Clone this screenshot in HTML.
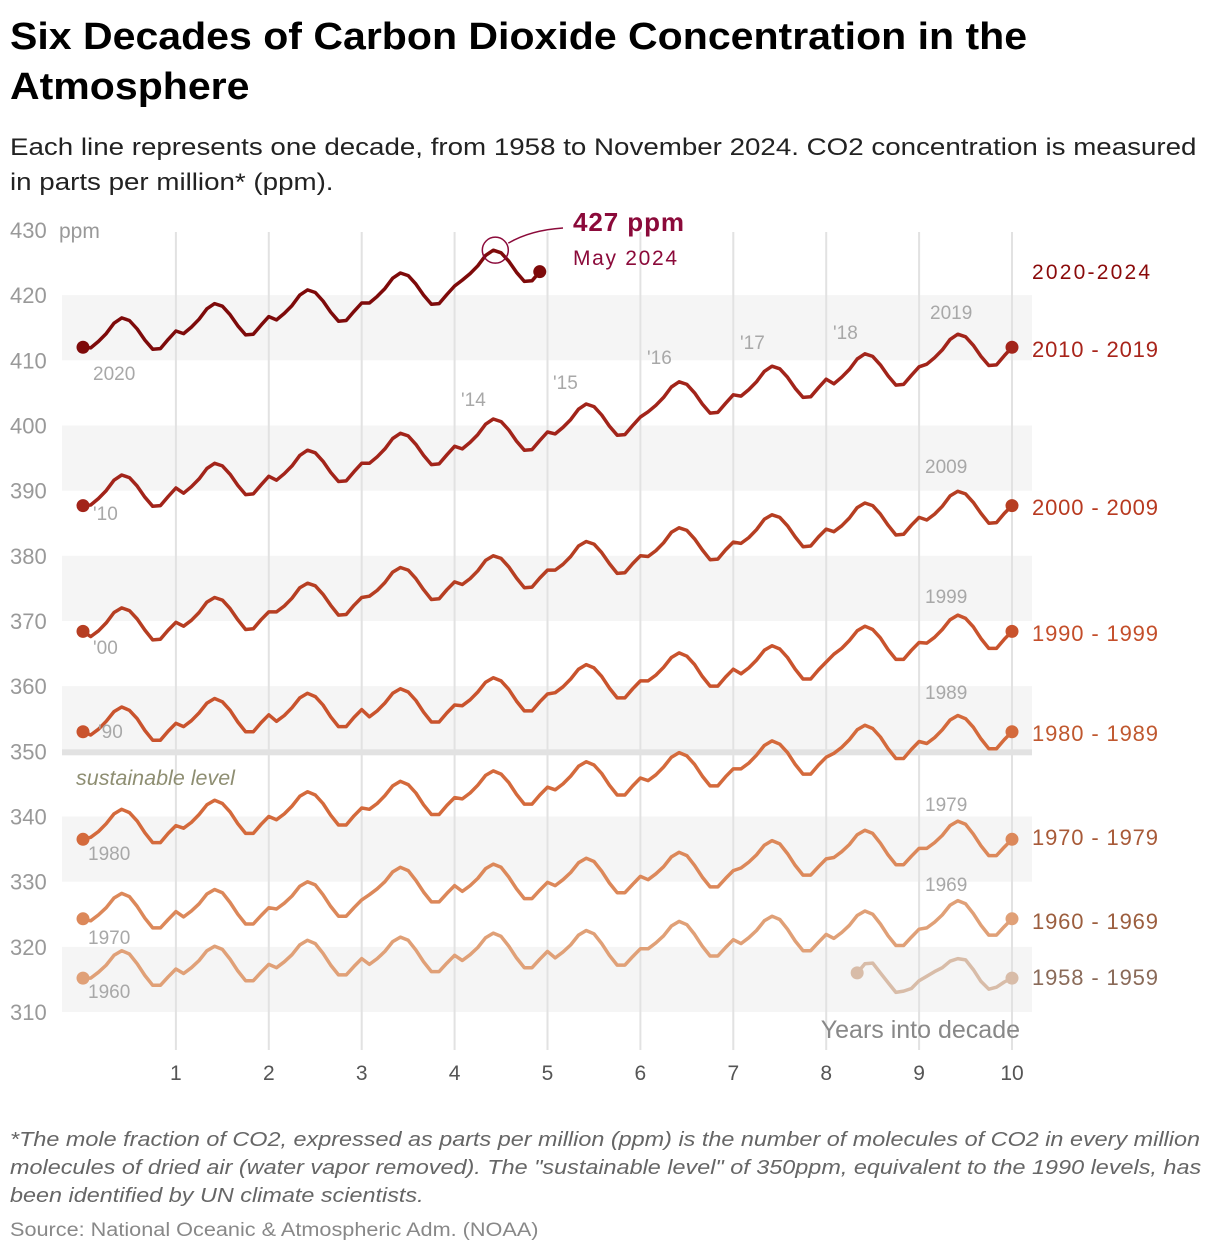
<!DOCTYPE html>
<html><head><meta charset="utf-8">
<style>
body{margin:0;background:#fff;width:1220px;height:1256px;overflow:hidden;font-family:"Liberation Sans",sans-serif;position:relative}
.t{position:absolute;white-space:nowrap;transform-origin:0 0}
</style></head>
<body>
<div class="t" style="left:10px;top:12px;font-size:38px;font-weight:bold;line-height:50px;color:#000;transform:scaleX(1.08)">Six Decades of Carbon Dioxide Concentration in the<br>Atmosphere</div>
<div class="t" style="left:10px;top:130px;font-size:24px;line-height:35px;color:#222;transform:scaleX(1.155)">Each line represents one decade, from 1958 to November 2024. CO2 concentration is measured<br>in parts per million* (ppm).</div>
<svg id="chart" width="1220" height="1100" style="position:absolute;left:0;top:0" xmlns="http://www.w3.org/2000/svg"></svg>
<div class="t" style="left:10px;top:1126px;font-size:20px;line-height:28px;font-style:italic;color:#666;transform:scaleX(1.17)">*The mole fraction of CO2, expressed as parts per million (ppm) is the number of molecules of CO2 in every million<br>molecules of dried air (water vapor removed). The "sustainable level" of 350ppm, equivalent to the 1990 levels, has<br>been identified by UN climate scientists.</div>
<div class="t" style="left:10px;top:1220px;font-size:19px;color:#888;transform:scaleX(1.14)">Source: National Oceanic &amp; Atmospheric Adm. (NOAA)</div>
<script>
const yTicks=[310,320,330,340,350,360,370,380,390,400,410,420,430];
const xTicks=[1,2,3,4,5,6,7,8,9,10];
const d1958=[316.0,317.4,317.5,316.0,314.5,313.0,313.2,313.6,314.8,315.5,316.2,316.8,317.8,318.2,318.0,316.5,314.7,313.5,313.8,314.6,315.2];
const d1960=[315.2,316.1,317.2,318.7,319.4,318.9,317.4,315.6,314.1,314.1,315.4,316.6,315.9,316.8,317.9,319.4,320.1,319.6,318.1,316.3,314.8,314.8,316.1,317.3,316.8,317.7,318.8,320.3,321.0,320.5,319.0,317.2,315.7,315.7,317.0,318.2,317.3,318.2,319.3,320.8,321.5,321.0,319.5,317.7,316.2,316.2,317.5,318.7,317.9,318.8,319.9,321.4,322.1,321.6,320.1,318.3,316.8,316.8,318.1,319.3,318.3,319.2,320.3,321.8,322.5,322.0,320.5,318.7,317.2,317.2,318.5,319.7,319.7,320.6,321.7,323.2,323.9,323.4,321.9,320.1,318.6,318.6,319.9,321.1,320.5,321.4,322.5,324.0,324.7,324.2,322.7,320.9,319.4,319.4,320.7,321.9,321.3,322.2,323.3,324.8,325.5,325.0,323.5,321.7,320.2,320.2,321.5,322.7,322.9,323.8,324.9,326.4,327.1,326.6,325.1,323.3,321.8,321.8,323.1,324.3];
const d1970=[324.0,324.9,326.0,327.5,328.2,327.7,326.2,324.4,322.9,322.9,324.2,325.4,324.6,325.5,326.6,328.1,328.8,328.3,326.8,325.0,323.5,323.5,324.8,326.0,325.8,326.7,327.8,329.3,330.0,329.5,328.0,326.2,324.7,324.7,326.0,327.2,328.0,328.9,330.0,331.5,332.2,331.7,330.2,328.4,326.9,326.9,328.2,329.4,328.5,329.4,330.5,332.0,332.7,332.2,330.7,328.9,327.4,327.4,328.7,329.9,329.4,330.3,331.4,332.9,333.6,333.1,331.6,329.8,328.3,328.3,329.6,330.8,330.3,331.2,332.3,333.8,334.5,334.0,332.5,330.7,329.2,329.2,330.5,331.7,332.1,333.0,334.1,335.6,336.3,335.8,334.3,332.5,331.0,331.0,332.3,333.5,333.7,334.6,335.7,337.2,337.9,337.4,335.9,334.1,332.6,332.6,333.9,335.1,335.1,336.0,337.1,338.6,339.3,338.8,337.3,335.5,334.0,334.0,335.3,336.5];
const d1980=[336.8,337.7,338.9,340.4,341.1,340.6,339.3,337.5,336.0,336.0,337.4,338.6,338.2,339.1,340.3,341.8,342.5,342.0,340.7,338.9,337.4,337.4,338.8,340.0,339.5,340.4,341.6,343.1,343.8,343.3,342.0,340.2,338.7,338.7,340.1,341.3,341.1,342.0,343.2,344.7,345.4,344.9,343.6,341.8,340.3,340.3,341.7,342.9,342.7,343.6,344.8,346.3,347.0,346.5,345.2,343.4,341.9,341.9,343.3,344.5,344.1,345.0,346.2,347.7,348.4,347.9,346.6,344.8,343.3,343.3,344.7,345.9,345.5,346.4,347.6,349.1,349.8,349.3,348.0,346.2,344.7,344.7,346.1,347.3,347.3,348.2,349.4,350.9,351.6,351.1,349.8,348.0,346.5,346.5,347.9,349.1,349.7,350.6,351.8,353.3,354.0,353.5,352.2,350.4,348.9,348.9,350.3,351.5,351.2,352.1,353.3,354.8,355.5,355.0,353.7,351.9,350.4,350.4,351.8,353.0];
const d1990=[352.5,353.4,354.6,356.1,356.8,356.3,355.0,353.2,351.7,351.7,353.1,354.3,353.8,354.7,355.9,357.4,358.1,357.6,356.3,354.5,353.0,353.0,354.4,355.6,354.6,355.5,356.7,358.2,358.9,358.4,357.1,355.3,353.8,353.8,355.2,356.4,355.3,356.2,357.4,358.9,359.6,359.1,357.8,356.0,354.5,354.5,355.9,357.1,357.0,357.9,359.1,360.6,361.3,360.8,359.5,357.7,356.2,356.2,357.6,358.8,359.0,359.9,361.1,362.6,363.3,362.8,361.5,359.7,358.2,358.2,359.6,360.8,360.8,361.7,362.9,364.4,365.1,364.6,363.3,361.5,360.0,360.0,361.4,362.6,361.9,362.8,364.0,365.5,366.2,365.7,364.4,362.6,361.1,361.1,362.5,363.7,364.9,365.8,367.0,368.5,369.2,368.7,367.4,365.6,364.1,364.1,365.5,366.7,366.6,367.5,368.7,370.2,370.9,370.4,369.1,367.3,365.8,365.8,367.2,368.4];
const d2000=[367.6,368.5,369.7,371.3,372.0,371.6,370.3,368.6,367.1,367.2,368.6,369.8,369.2,370.1,371.3,372.9,373.6,373.2,371.9,370.2,368.7,368.8,370.2,371.4,371.4,372.3,373.5,375.1,375.8,375.4,374.1,372.4,370.9,371.0,372.4,373.6,373.8,374.7,375.9,377.5,378.2,377.8,376.5,374.8,373.3,373.4,374.8,376.0,375.6,376.5,377.7,379.3,380.0,379.6,378.3,376.6,375.1,375.2,376.6,377.8,377.8,378.7,379.9,381.5,382.2,381.8,380.5,378.8,377.3,377.4,378.8,380.0,379.9,380.8,382.0,383.6,384.3,383.9,382.6,380.9,379.4,379.5,380.9,382.1,381.9,382.8,384.0,385.6,386.3,385.9,384.6,382.9,381.4,381.5,382.9,384.1,383.7,384.6,385.8,387.4,388.1,387.7,386.4,384.7,383.2,383.3,384.7,385.9,385.5,386.4,387.6,389.2,389.9,389.5,388.2,386.5,385.0,385.1,386.5,387.7];
const d2010=[387.8,388.8,390.0,391.6,392.4,392.0,390.7,389.0,387.6,387.7,389.1,390.4,389.6,390.6,391.8,393.4,394.2,393.8,392.5,390.8,389.4,389.5,390.9,392.2,391.6,392.6,393.8,395.4,396.2,395.8,394.5,392.8,391.4,391.5,392.9,394.2,394.2,395.2,396.4,398.0,398.8,398.4,397.1,395.4,394.0,394.1,395.5,396.8,396.4,397.4,398.6,400.2,401.0,400.6,399.3,397.6,396.2,396.3,397.7,399.0,398.7,399.7,400.9,402.5,403.3,402.9,401.6,399.9,398.5,398.6,400.0,401.3,402.1,403.1,404.3,405.9,406.7,406.3,405.0,403.3,401.9,402.0,403.4,404.7,404.5,405.5,406.7,408.3,409.1,408.7,407.4,405.7,404.3,404.4,405.8,407.1,406.4,407.4,408.6,410.2,411.0,410.6,409.3,407.6,406.2,406.3,407.7,409.0,409.4,410.4,411.6,413.2,414.0,413.6,412.3,410.6,409.2,409.3,410.7,412.0];
const d2020=[411.9,412.9,414.1,415.7,416.5,416.1,414.8,413.1,411.7,411.8,413.2,414.5,414.1,415.1,416.3,417.9,418.7,418.3,417.0,415.3,413.9,414.0,415.4,416.7,416.2,417.2,418.4,420.0,420.8,420.4,419.1,417.4,416.0,416.1,417.5,418.8,418.8,419.8,421.0,422.6,423.4,423.0,421.7,420.0,418.6,418.7,420.1,421.4,422.3,423.3,424.5,426.1,426.9,426.5,425.2,423.5,422.1,422.2,423.6];
const seriesNames=["1958 - 1959","1960 - 1969","1970 - 1979","1980 - 1989","1990 - 1999","2000 - 2009","2010 - 2019","2020-2024"];

const svg=document.getElementById('chart');
const NS='http://www.w3.org/2000/svg';
const X0=83,XW=92.9,Y0=1012,YS=6.517;
function xs(t){return X0+t*XW;}
function ys(v){return Y0-(v-310)*YS;}
function mk(tag,attrs,parent){const e=document.createElementNS(NS,tag);for(const k in attrs)e.setAttribute(k,attrs[k]);(parent||svg).appendChild(e);return e;}
function txt(s,x,y,size,fill,extra){const e=mk('text',Object.assign({x:x,y:y,'font-size':size,fill:fill,'font-family':'Liberation Sans, sans-serif'},extra||{}));e.textContent=s;return e;}

for(let v=310;v<430;v+=20){
  const b=mk('rect',{x:62,y:ys(v+10),width:970,height:ys(v)-ys(v+10),fill:'#f5f5f5'});
  
  
}
xTicks.forEach(t=>{
  const l=mk('line',{x1:xs(t),x2:xs(t),y1:232,y2:1050,stroke:'#e2e2e2','stroke-width':2});
  
  
  const tl=txt(String(t),xs(t),1080,21,'#555',{'text-anchor':'middle'});
  
  
});
const sl=mk('rect',{x:62,y:ys(350)-2,width:970,height:6,fill:'#e2e2e2'});


const st=txt('sustainable level',76,785,21.5,'#8e8e72',{'font-style':'italic'});


yTicks.forEach(v=>{
  const e=txt(String(v),10,ys(v)+8,22,'#999');
  
  
});
const pu=txt('ppm',59,238,21,'#999');


const xt=txt('Years into decade',1020,1038,25,'#888',{'text-anchor':'end'});



const series=[
 {vals:d1958,start:99,prev:null,col:'#d8bca8',lab:'#8a6a58',ly:985},
 {vals:d1960,start:0,prev:d1958,col:'#e0a077',lab:'#9c5e3e',ly:929},
 {vals:d1970,start:0,prev:d1960,col:'#dc885a',lab:'#a85a38',ly:845},
 {vals:d1980,start:0,prev:d1970,col:'#d46a3c',lab:'#c0582f',ly:741},
 {vals:d1990,start:0,prev:d1980,col:'#c9532d',lab:'#c44e2a',ly:641},
 {vals:d2000,start:0,prev:d1990,col:'#b63e22',lab:'#b83a20',ly:515},
 {vals:d2010,start:0,prev:d2000,col:'#a2241a',lab:'#a8241a',ly:357},
 {vals:d2020,start:0,prev:d2010,col:'#7e0a0a',lab:'#8a0a0a',ly:279}
];
series.forEach((s,i)=>{
  const pts=[];
  if(s.prev)pts.push([xs(0),ys(s.prev[s.prev.length-1])]);
  s.vals.forEach((v,k)=>pts.push([xs((s.start+k+1)/12),ys(v)]));
  const p=mk('path',{d:'M'+pts.map(q=>q[0].toFixed(1)+','+q[1].toFixed(1)).join('L'),fill:'none',stroke:s.col,'stroke-width':3.5,'stroke-linejoin':'round','stroke-linecap':'round'});
  
  
  const c0=mk('circle',{cx:pts[0][0],cy:pts[0][1],r:6.5,fill:s.col});
  
  
  const pl=pts[pts.length-1];
  const c1=mk('circle',{cx:pl[0],cy:pl[1],r:6.5,fill:s.col});
  
  
  const l=txt(seriesNames[i],1032,s.ly,i===7?21:22,s.lab,{textLength:i===7?118:126});
  
  
});
const ann=[['2020',93,380],["'10",93,520],["'00",93,654],["'90",98,738],['1980',88,860],['1970',88,944],['1960',88,998],["'14",461,406],["'15",553,389],["'16",647,364],["'17",740,349],["'18",833,339],['2019',930,319],['2009',925,473],['1999',925,603],['1989',925,699],['1979',925,811],['1969',925,891]];
ann.forEach(a=>{
  const e=txt(a[0],a[1],a[2],19,'#a8a8a8');
  
  
});
let pk=0;d2020.forEach((v,k)=>{if(v>d2020[pk])pk=k;});
const px=xs((pk+1)/12)+2,py=ys(d2020[pk]);
const pc=mk('circle',{cx:px,cy:py,r:13,fill:'none',stroke:'#8b0a3a','stroke-width':1.5});


const pp=mk('path',{d:`M${px+13},${py-7} Q${px+35},${py-20} 563,228`,fill:'none',stroke:'#8b0a3a','stroke-width':1.5});


const p1=txt('427 ppm',573,231,26,'#8b0a3a',{'font-weight':'bold',textLength:111});


const p2=txt('May 2024',573,265,21,'#8b0a3a',{textLength:104});


</script>
</body></html>
